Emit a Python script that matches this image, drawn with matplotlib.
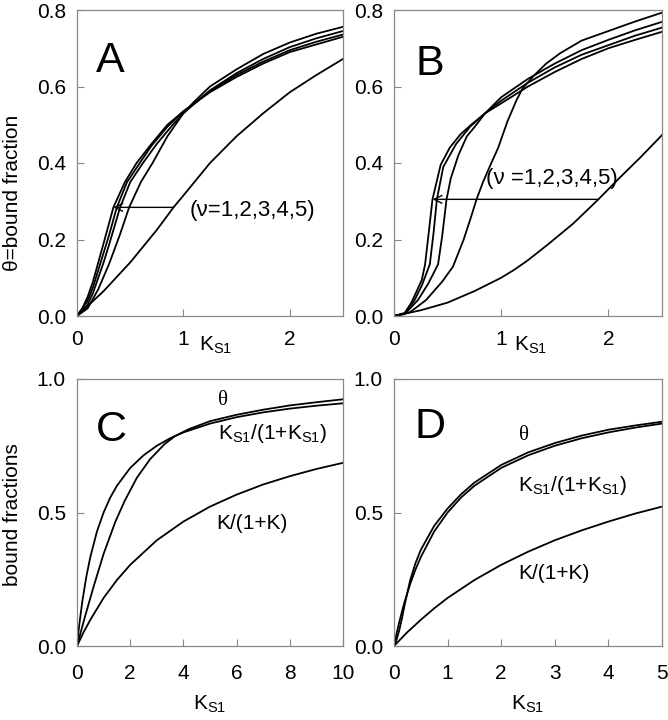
import matplotlib
matplotlib.use("Agg")
import matplotlib.pyplot as plt

plt.rcParams['font.family'] = ['Liberation Sans', 'DejaVu Sans']
plt.rcParams['mathtext.fontset'] = 'custom'
plt.rcParams['mathtext.rm'] = 'Liberation Sans'
plt.rcParams['mathtext.it'] = 'Liberation Sans'

# ---------------- Panel A data ----------------
A1_k = [0, 0.25, 0.5, 0.75, 0.907, 1.0, 1.25, 1.5, 1.75, 2.0, 2.25, 2.5]
A1_t = [0, 0.065, 0.14, 0.225, 0.284, 0.315, 0.40, 0.47, 0.53, 0.585, 0.63, 0.672]
A2_k = [0, 0.1, 0.2, 0.3, 0.4, 0.49, 0.6, 0.71, 0.85, 1.0, 1.1, 1.25, 1.5, 1.75, 2.0, 2.25, 2.5]
A2_t = [0, 0.02, 0.07, 0.135, 0.21, 0.284, 0.35, 0.40, 0.47, 0.53, 0.56, 0.60, 0.645, 0.685, 0.715, 0.738, 0.756]
A3_k = [0, 0.1, 0.15, 0.2, 0.25, 0.3, 0.405, 0.5, 0.62, 0.75, 0.9, 1.0, 1.25, 1.5, 1.75, 2.0, 2.25, 2.5]
A3_t = [0, 0.03, 0.06, 0.10, 0.14, 0.185, 0.284, 0.35, 0.40, 0.45, 0.50, 0.53, 0.59, 0.635, 0.672, 0.703, 0.726, 0.745]
A4_k = [0, 0.1, 0.15, 0.2, 0.25, 0.3, 0.374, 0.47, 0.59, 0.7, 0.85, 1.0, 1.25, 1.5, 1.75, 2.0, 2.25, 2.5]
A4_t = [0, 0.04, 0.075, 0.12, 0.165, 0.21, 0.284, 0.35, 0.40, 0.445, 0.495, 0.535, 0.588, 0.63, 0.665, 0.695, 0.717, 0.736]
A5_k = [0, 0.05, 0.1, 0.15, 0.2, 0.25, 0.342, 0.45, 0.56, 0.7, 0.85, 1.0, 1.25, 1.5, 1.75, 2.0, 2.25, 2.5]
A5_t = [0, 0.02, 0.05, 0.09, 0.14, 0.19, 0.284, 0.35, 0.40, 0.45, 0.50, 0.535, 0.585, 0.625, 0.66, 0.69, 0.71, 0.73]

# ---------------- Panel B data ----------------
B1_k = [0, 0.25, 0.5, 0.75, 1.0, 1.128, 1.25, 1.44, 1.673, 1.907, 2.1, 2.3, 2.5]
B1_t = [0, 0.015, 0.035, 0.065, 0.10, 0.122, 0.146, 0.188, 0.242, 0.305, 0.36, 0.415, 0.473]
B2_k = [0, 0.15, 0.3, 0.45, 0.55, 0.65, 0.72, 0.77, 0.83, 0.90, 0.972, 1.06, 1.144, 1.2, 1.3, 1.42, 1.55, 1.75, 2.0, 2.25, 2.5]
B2_t = [0, 0.01, 0.042, 0.09, 0.129, 0.20, 0.26, 0.305, 0.35, 0.395, 0.44, 0.51, 0.565, 0.595, 0.627, 0.66, 0.687, 0.72, 0.745, 0.77, 0.793]
B3_k = [0, 0.1, 0.224, 0.32, 0.411, 0.45, 0.49, 0.53, 0.60, 0.68, 0.754, 0.85, 1.0, 1.25, 1.5, 1.75, 2.0, 2.25, 2.5]
B3_t = [0, 0.005, 0.042, 0.085, 0.135, 0.21, 0.305, 0.36, 0.42, 0.47, 0.495, 0.53, 0.572, 0.62, 0.66, 0.695, 0.722, 0.747, 0.769]
B4_k = [0, 0.1, 0.193, 0.26, 0.334, 0.37, 0.40, 0.46, 0.58, 0.71, 0.85, 1.0, 1.25, 1.5, 1.75, 2.0, 2.25, 2.5]
B4_t = [0, 0.006, 0.042, 0.08, 0.135, 0.22, 0.305, 0.39, 0.45, 0.495, 0.53, 0.563, 0.61, 0.65, 0.683, 0.708, 0.733, 0.754]
B5_k = [0, 0.1, 0.162, 0.22, 0.259, 0.29, 0.327, 0.359, 0.435, 0.52, 0.62, 0.72, 0.85, 1.0, 1.25, 1.5, 1.75, 2.0, 2.25, 2.5]
B5_t = [0, 0.008, 0.035, 0.07, 0.094, 0.135, 0.225, 0.305, 0.395, 0.44, 0.475, 0.50, 0.53, 0.556, 0.60, 0.638, 0.672, 0.70, 0.722, 0.743]

# ---------------- Panel C data ----------------
C_theta_k = [0, 0.3, 0.62, 1.0, 1.44, 1.8, 2.25, 2.75, 3.3, 3.7, 4.2, 5, 6, 7, 8, 9, 10]
C_theta_t = [0, 0.11, 0.221, 0.345, 0.465, 0.545, 0.63, 0.70, 0.757, 0.787, 0.812, 0.842, 0.866, 0.885, 0.901, 0.913, 0.924]
C_ks_k = [0, 0.05, 0.1, 0.2, 0.35, 0.5, 0.75, 1, 1.25, 1.5, 2, 2.5, 3, 3.5, 4, 5, 6, 7, 8, 9, 10]
C_ks_t = [0, 0.048, 0.091, 0.167, 0.259, 0.333, 0.429, 0.5, 0.556, 0.6, 0.667, 0.714, 0.75, 0.778, 0.8, 0.833, 0.857, 0.875, 0.889, 0.9, 0.909]
C_k_k = [0, 0.25, 0.5, 1, 1.5, 2, 3, 4, 5, 6, 7, 8, 9, 10]
C_k_t = [0, 0.052, 0.098, 0.18, 0.247, 0.304, 0.396, 0.466, 0.522, 0.567, 0.605, 0.636, 0.663, 0.686]

# ---------------- Panel D data ----------------
D_theta_k = [0, 0.05, 0.1, 0.15, 0.2, 0.3, 0.4, 0.5, 0.75, 1, 1.25, 1.5, 2, 2.5, 3, 3.5, 4, 4.5, 5]
D_theta_t = [0, 0.025, 0.06, 0.105, 0.155, 0.245, 0.31, 0.36, 0.45, 0.515, 0.568, 0.612, 0.678, 0.725, 0.76, 0.788, 0.81, 0.826, 0.840]
D_ks_k = [0, 0.05, 0.1, 0.15, 0.2, 0.3, 0.4, 0.5, 0.75, 1, 1.25, 1.5, 2, 2.5, 3, 3.5, 4, 4.5, 5]
D_ks_t = [0, 0.048, 0.091, 0.13, 0.167, 0.231, 0.286, 0.333, 0.429, 0.5, 0.556, 0.6, 0.667, 0.714, 0.75, 0.778, 0.8, 0.818, 0.833]
D_k_k = [0, 0.25, 0.5, 0.75, 1, 1.5, 2, 2.5, 3, 3.5, 4, 4.5, 5]
D_k_t = [0, 0.052, 0.098, 0.141, 0.18, 0.247, 0.304, 0.353, 0.396, 0.433, 0.466, 0.496, 0.522]

A_xticks = [0, 1, 2]
A_yticks = [0.0, 0.2, 0.4, 0.6, 0.8]
C_xticks = [0, 2, 4, 6, 8, 10]
D_xticks = [0, 1, 2, 3, 4, 5]
C_yticks = [0.0, 0.5, 1.0]

W, H = 668, 720
fig = plt.figure(figsize=(W / 100, H / 100), dpi=100)

def box(l, r, t, b):
    return [l / W, 1 - b / H, (r - l) / W, (b - t) / H]

axA = fig.add_axes(box(77, 343, 10, 316))
axB = fig.add_axes(box(394, 662, 10, 316))
axC = fig.add_axes(box(77, 343, 379, 646))
axD = fig.add_axes(box(394, 662, 379, 646))

lw = 1.3
FS = 15
for ax in (axA, axB, axC, axD):
    for s in ax.spines.values():
        s.set_color('#888888')
        s.set_linewidth(0.9)
    ax.tick_params(direction='in', length=5, width=0.8, color='#888888',
                   labelsize=FS, labelcolor='black')
    ax.tick_params(axis='y', pad=8)
for ax in (axA, axB):
    ax.tick_params(axis='x', pad=10)
for ax in (axC, axD):
    ax.tick_params(axis='x', pad=13)

for k, t in [(A1_k, A1_t), (A2_k, A2_t), (A3_k, A3_t), (A4_k, A4_t), (A5_k, A5_t)]:
    axA.plot(k, t, color='black', lw=lw)
for k, t in [(B1_k, B1_t), (B2_k, B2_t), (B3_k, B3_t), (B4_k, B4_t), (B5_k, B5_t)]:
    axB.plot(k, t, color='black', lw=lw)
for k, t in [(C_theta_k, C_theta_t), (C_ks_k, C_ks_t), (C_k_k, C_k_t)]:
    axC.plot(k, t, color='black', lw=lw)
for k, t in [(D_theta_k, D_theta_t), (D_ks_k, D_ks_t), (D_k_k, D_k_t)]:
    axD.plot(k, t, color='black', lw=lw)

for ax in (axA, axB):
    ax.set_xlim(0, 2.5)
    ax.set_ylim(0, 0.8)
    ax.set_xticks(A_xticks)
    ax.set_xticklabels([str(v) for v in A_xticks])
    ax.set_yticks(A_yticks)
    ax.set_yticklabels(['%.1f' % v for v in A_yticks])

axC.set_xlim(0, 10)
axD.set_xlim(0, 5)
axC.set_xticks(C_xticks)
axD.set_xticks(D_xticks)
KS1 = 'K$_{\\mathrm{S1}}$'
for ax in (axC, axD):
    ax.set_ylim(0, 1.0)
    ax.set_yticks(C_yticks)
    ax.set_yticklabels(['%.1f' % v for v in C_yticks])
    ax.set_xlabel(KS1, fontsize=FS, labelpad=8)

# x labels of top row (placed between tick labels)
axA.text(0.52, -0.095, KS1, transform=axA.transAxes,
         ha='center', va='center', fontsize=FS)
axB.text(0.51, -0.095, KS1, transform=axB.transAxes,
         ha='center', va='center', fontsize=FS)

# panel letters
for ax, lab, x, y in [(axA, 'A', 0.07, 0.90), (axB, 'B', 0.08, 0.89),
                      (axC, 'C', 0.07, 0.885), (axD, 'D', 0.075, 0.895)]:
    ax.text(x, y, lab, transform=ax.transAxes, ha='left', va='top', fontsize=31)

# arrows & nu labels
axA.annotate('', xy=(0.342, 0.284), xytext=(0.907, 0.284),
             arrowprops=dict(arrowstyle='->', color='black', lw=1.0,
                             shrinkA=0, shrinkB=0, mutation_scale=14))
axA.text(1.06, 0.275, '(ν=1,2,3,4,5)', fontsize=16, ha='left', va='center')
axB.annotate('', xy=(0.36, 0.305), xytext=(1.907, 0.305),
             arrowprops=dict(arrowstyle='->', color='black', lw=1.0,
                             shrinkA=0, shrinkB=0, mutation_scale=14))
axB.text(0.86, 0.36, '(ν =1,2,3,4,5)', fontsize=16, ha='left', va='center')

# curve labels C & D
serif = ['Liberation Serif', 'DejaVu Serif']
axC.text(5.5, 0.92, 'θ', fontsize=FS, family=serif, ha='center', va='center')
axC.text(5.3, 0.795, KS1 + '/(1+' + KS1 + ')', fontsize=FS, ha='left', va='center')
axC.text(5.25, 0.46, 'K/(1+K)', fontsize=FS, ha='left', va='center')
axD.text(2.42, 0.79, 'θ', fontsize=FS, family=serif, ha='center', va='center')
axD.text(2.31, 0.60, KS1 + '/(1+' + KS1 + ')', fontsize=FS, ha='left', va='center')
axD.text(2.31, 0.27, 'K/(1+K)', fontsize=FS, ha='left', va='center')

# y labels
fig.text(13 / W, 1 - 193 / H, 'θ=bound fraction', rotation=90, fontsize=FS,
         ha='center', va='center')
fig.text(13 / W, 1 - 515 / H, 'bound fractions', rotation=90, fontsize=FS,
         ha='center', va='center')

fig.savefig('out.png', dpi=100)
